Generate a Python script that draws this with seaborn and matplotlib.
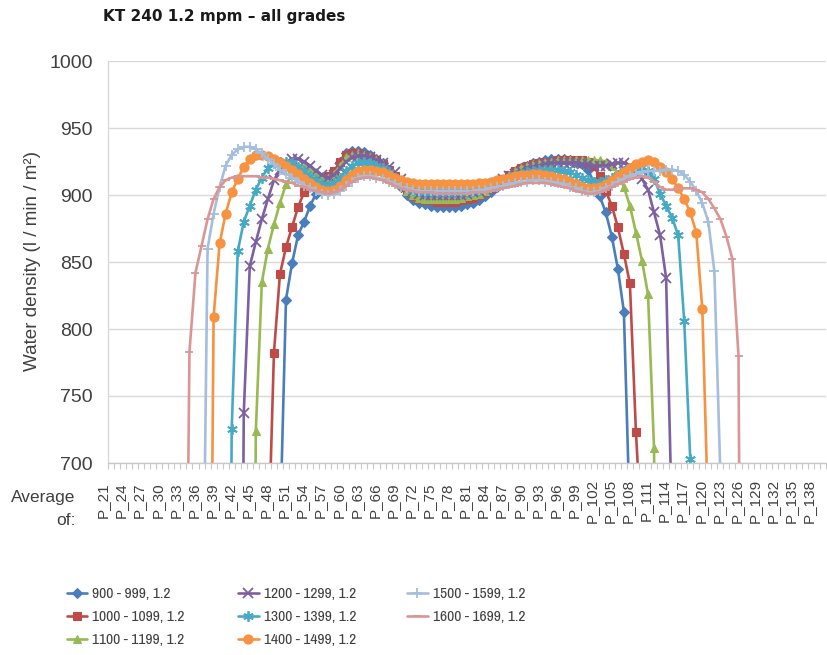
import numpy as np
import pandas as pd
import matplotlib
matplotlib.use("Agg")
import matplotlib.pyplot as plt
import seaborn as sns
from matplotlib import font_manager
from matplotlib.transforms import ScaledTranslation

# ---------------- data ----------------
title = "KT 240 1.2 mpm – all grades"
ylabel = "Water density (l / min / m²)"
cat_first, cat_last = 21, 139
categories = [f"P_{i}" for i in range(cat_first, cat_last + 1)]
tick_labels = [f"P_{i}" for i in range(21, 139, 3)]

grades = ["900 - 999, 1.2", "1000 - 1099, 1.2", "1100 - 1199, 1.2",
          "1200 - 1299, 1.2", "1300 - 1399, 1.2", "1400 - 1499, 1.2",
          "1500 - 1599, 1.2", "1600 - 1699, 1.2"]

# first category number of each series, then its values (values < 700 fall below the axis)
g900_start = 49
g900 = [648, 822, 849, 870, 880, 892, 901, 907, 911, 917, 925, 931, 933, 933, 932, 930,
        927, 924, 919, 913, 906, 900, 896, 894, 893, 892, 891, 891, 891, 891, 892, 893,
        894, 896, 899, 902, 906, 910, 914, 917, 920, 922, 924, 925, 926, 927, 927, 927,
        926, 925, 923, 919, 910, 899, 887, 869, 845, 813, 656]

g1000_start = 47
g1000 = [624, 782, 841, 861, 876, 891, 902, 909, 912, 913, 914, 918, 925, 930, 931, 931,
         930, 928, 926, 923, 919, 914, 908, 903, 899, 897, 896, 896, 895, 895, 895, 895,
         896, 897, 898, 900, 902, 905, 909, 912, 915, 918, 920, 922, 923, 924, 925, 925,
         926, 926, 926, 926, 926, 925, 922, 914, 903, 892, 876, 856, 834, 723, 641]

g1100_start = 44
g1100 = [0, 724, 835, 860, 878, 894, 908, 915, 920, 921, 920, 917, 914, 913, 916, 922,
         928, 930, 931, 930, 928, 926, 923, 919, 914, 908, 903, 900, 898, 897, 897, 897,
         897, 897, 897, 898, 899, 900, 901, 903, 906, 909, 912, 915, 918, 920, 922, 923,
         924, 925, 925, 926, 926, 926, 926, 926, 926, 926, 926, 925, 922, 916, 906, 892,
         872, 851, 826, 711, 0]

g1200_start = 42
g1200 = [0, 737, 847, 865, 882, 897, 911, 919, 924, 927, 927, 925, 922, 918, 915, 913,
         915, 920, 925, 928, 929, 929, 928, 926, 924, 921, 917, 912, 907, 903, 901, 900,
         900, 900, 900, 900, 900, 900, 901, 902, 903, 905, 907, 909, 912, 914, 916, 918,
         920, 921, 922, 923, 924, 924, 924, 924, 924, 923, 923, 922, 922, 922, 923, 924,
         924, 922, 918, 912, 904, 887, 870, 838, 649]

g1300_start = 40
g1300 = [0, 725, 858, 880, 892, 904, 913, 920, 924, 925, 925, 924, 921, 918, 914, 911,
         908, 907, 909, 913, 918, 922, 924, 925, 924, 922, 920, 917, 913, 909, 906, 904,
         903, 902, 902, 902, 902, 902, 902, 902, 902, 903, 904, 905, 907, 909, 911, 913,
         915, 916, 917, 918, 919, 919, 919, 919, 918, 917, 915, 913, 911, 910, 910, 911,
         913, 915, 918, 920, 921, 921, 918, 912, 901, 892, 883, 870, 806, 703, 0]

g1400_start = 37
g1400 = [264, 809, 864, 886, 902, 912, 921, 927, 930, 930, 929, 927, 925, 922, 919, 916,
         912, 909, 906, 904, 903, 904, 907, 911, 915, 918, 919, 919, 918, 917, 915, 913,
         911, 910, 909, 908, 908, 908, 908, 908, 908, 908, 908, 908, 908, 909, 909, 910,
         911, 912, 913, 914, 915, 915, 916, 916, 915, 914, 913, 912, 910, 908, 906, 905,
         905, 906, 908, 911, 914, 917, 920, 923, 925, 926, 925, 921, 917, 912, 905, 897,
         887, 872, 815, 655]

g1500_start = 36
g1500 = [485, 860, 886, 906, 922, 930, 934, 936, 936, 934, 931, 927, 923, 919, 916, 913,
         910, 907, 905, 903, 901, 900, 901, 903, 907, 910, 913, 914, 914, 913, 912, 910,
         908, 906, 905, 904, 903, 903, 903, 903, 903, 903, 903, 903, 903, 903, 904, 904,
         905, 906, 907, 908, 909, 910, 910, 911, 911, 910, 910, 909, 908, 906, 905, 903,
         902, 902, 903, 905, 907, 910, 912, 914, 916, 917, 918, 918, 918, 919, 919, 918,
         915, 910, 903, 894, 880, 843, 690]

g1600_start = 33
g1600 = [330, 783, 842, 862, 882, 897, 906, 911, 913, 914, 914, 914, 914, 913, 913, 912,
         911, 910, 909, 907, 906, 904, 903, 902, 901, 902, 904, 907, 910, 912, 913, 913,
         912, 911, 909, 907, 905, 904, 903, 902, 902, 902, 901, 901, 901, 901, 901, 901,
         902, 902, 902, 903, 904, 905, 906, 907, 908, 909, 909, 909, 909, 908, 907, 906,
         905, 903, 902, 901, 901, 902, 904, 906, 908, 910, 912, 913, 914, 913, 910, 906,
         904, 904, 905, 905, 905, 904, 902, 897, 890, 882, 869, 852, 780, 0]

series_starts = [g900_start, g1000_start, g1100_start, g1200_start,
                 g1300_start, g1400_start, g1500_start, g1600_start]
series_values = [g900, g1000, g1100, g1200, g1300, g1400, g1500, g1600]

colors = ["#4A7EBB", "#BE4B48", "#98B954", "#7D60A0",
          "#46AAC5", "#F69240", "#A5BEDE", "#DA9694"]
markers = ["D", "s", "^", "x", (6, 2, 0), "o", "+", "_"]
msizes = [5.4, 5.8, 6.4, 6.8, 7.6, 6.6, 7.8, 6.2]

# ---------------- build table ----------------
rows = []
for g, st, vals in zip(grades, series_starts, series_values):
    for k, v in enumerate(vals):
        rows.append((g, st + k, v))
df = pd.DataFrame(rows, columns=["grade", "pos", "density"])

# ---------------- style ----------------
sns.set_theme(style="white")
plt.rcParams["font.family"] = ["Liberation Sans", "DejaVu Sans"]
txt = "#404040"

W, H = 827, 655
fig = plt.figure(figsize=(W / 100, H / 100), dpi=100)
L, R, T, B = 108, 826, 61, 463
ax = fig.add_axes([L / W, 1 - B / H, (R - L) / W, (B - T) / H])

for g, c, m, ms in zip(grades, colors, markers, msizes):
    sub = df[df["grade"] == g]
    mew = 1.3 if m in ("x", "+", "_", (6, 2, 0)) else 0.8
    sns.lineplot(data=sub, x="pos", y="density", ax=ax, color=c, lw=1.9,
                 marker=m, markersize=ms, markeredgecolor=c, markerfacecolor=c,
                 markeredgewidth=mew, label=g, estimator=None, sort=False)

px_per_cat = 6.05
ax.set_xlim(cat_first - 0.5, cat_first - 0.5 + (R - L) / px_per_cat)
ax.set_ylim(700, 1000)
ax.set_yticks([700, 750, 800, 850, 900, 950, 1000])
ax.yaxis.grid(True, color="#D9D9D9", lw=1.0)
ax.xaxis.grid(False)
ax.set_axisbelow(True)

tick_pos = [int(t.split("_")[1]) for t in tick_labels]
ax.set_xticks(tick_pos)
ax.set_xticklabels(tick_labels)
ax.set_xticks([cat_first - 0.5 + k for k in range(len(categories) + 1)], minor=True)
ax.tick_params(axis="x", which="major", length=0, pad=27, labelsize=11,
               labelcolor=txt, labelrotation=90)
ax.tick_params(axis="x", which="minor", length=4, width=0.8, color="#C8C8C8",
               direction="out", bottom=True)
ax.tick_params(axis="y", length=0, pad=11, labelsize=14, labelcolor=txt)
for lab in ax.get_xticklabels():
    lab.set_va("center")
    lab.set_transform(lab.get_transform() + ScaledTranslation(-8 / 100, 0, fig.dpi_scale_trans))

for s in ("top", "right"):
    ax.spines[s].set_visible(False)
ax.spines["bottom"].set_color("#C8C8C8")
ax.spines["left"].set_color("#D9D9D9")
ax.spines["bottom"].set_linewidth(1.0)
ax.spines["left"].set_linewidth(1.0)
ax.set_xlabel("")
ax.set_ylabel("")

fig.text(103 / W, 1 - 17 / H, title, ha="left", va="center", fontsize=11,
         fontweight="bold", family=["DejaVu Sans"], color="#1a1a1a")
fig.text(33 / W, 1 - 261 / H, ylabel, rotation=90, ha="center", va="center",
         fontsize=13.6, color=txt)
fig.text(75 / W, 1 - 502 / H, "Average", ha="right", va="baseline", fontsize=12.5, color=txt)
fig.text(76 / W, 1 - 525 / H, "of:", ha="right", va="baseline", fontsize=12.5, color=txt)

# legend: three columns placed at the reference column positions
handles, labels = ax.get_legend_handles_labels()
ax.legend_.remove()
narrow = [f for f in font_manager.fontManager.ttflist
          if ("Narrow" in f.name or "Condensed" in f.name)
          and str(f.weight) in ("400", "normal", "regular") and f.style == "normal"]
if narrow:
    lprop = font_manager.FontProperties(fname=narrow[0].fname, size=11.2)
else:
    lprop = font_manager.FontProperties(family="Liberation Sans", size=9.8)
fs_px = lprop.get_size_in_points() * 100 / 72
col_x = [66.5, 238, 407]
col_items = [[0, 1, 2], [3, 4, 5], [6, 7]]
for cx, idx in zip(col_x, col_items):
    leg = fig.legend([handles[i] for i in idx], [labels[i] for i in idx],
                     loc="upper left", bbox_to_anchor=(cx / W, 1 - 587 / H),
                     frameon=False, prop=lprop, handlelength=20.5 / fs_px,
                     handletextpad=5.5 / fs_px, labelspacing=(23.3 - 0.92 * fs_px) / fs_px,
                     borderpad=0, borderaxespad=0, labelcolor=txt)

fig.savefig("out.png", dpi=100)
